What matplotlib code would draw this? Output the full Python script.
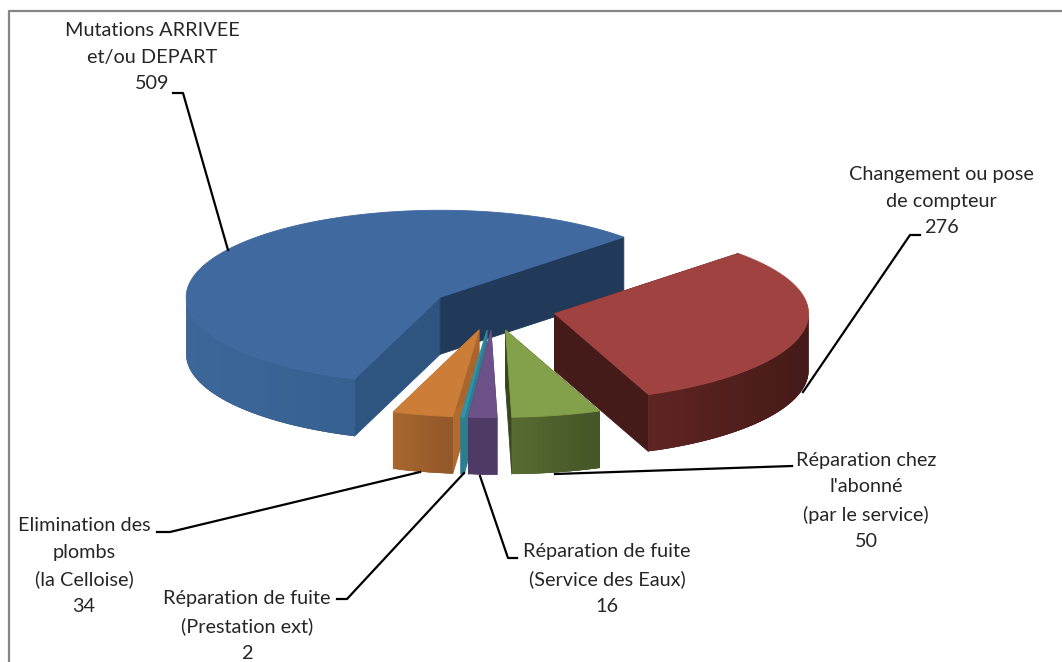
import numpy as np
import matplotlib
matplotlib.use("Agg")
import matplotlib.pyplot as plt
from matplotlib.colors import to_rgb
from matplotlib.patches import Polygon

# ---- data (order: clockwise from the red slice) ----
categories = ["Changement ou pose\nde compteur",
              "Réparation chez\nl'abonné\n(par le service)",
              "Réparation de fuite\n(Service des Eaux)",
              "Réparation de fuite\n(Prestation ext)",
              "Elimination des\nplombs\n(la Celloise)",
              "Mutations ARRIVEE\net/ou DEPART"]
values = [276, 50, 16, 2, 34, 509]

top_colors = ["#a04340", "#83a04a", "#6d5189", "#2f93a9", "#cc7e38", "#4069a0"]
wall_left = ["#5f2422", "#586c31", "#4f3a66", "#2c7d90", "#a8662d", "#3d6799"]
wall_right = ["#451a18", "#445527", "#4f3a66", "#2c7d90", "#91582a", "#36608f"]
face_cw_side = ["#451b19", "#445527", "#4f3a66", "#2c7d90", "#b06c30", "#2e5480"]
face_ccw_side = ["#451b19", "#38461e", "#4f3a66", "#2c7d90", "#a8662d", "#213a5a"]

# ---- layout ----
START = 43.7
CX, CY, RX, RY, DEPTH, EXPLODE = 493.0, 309.0, 254.0, 87.0, 57.0, 0.248
label_xy = [(941, 201), (866, 501), (607, 579), (247, 626), (84, 566), (152, 57)]
leaders = [[(920, 235), (910, 235), (803, 392)],
           [(792, 466), (555, 474)],
           [(517, 558), (508, 558), (480, 476)],
           [(337, 599), (347, 599), (464, 473)],
           [(157, 532), (170, 532), (420, 472)],
           [(173, 93), (183, 93), (228, 250)]]
draw_order = [5, 0, 4, 3, 2, 1]

plt.rcParams['font.family'] = ['Lato', 'DejaVu Sans']
fig = plt.figure(figsize=(10.62, 6.62), dpi=100)
ax = fig.add_axes([0, 0, 1, 1])
ax.set_xlim(0, 1062)
ax.set_ylim(662, 0)
ax.axis('off')


def pt(a_deg, r, ox, oy, dz=0.0):
    a = np.radians(a_deg)
    return ox + RX * r * np.cos(a), oy - RY * r * np.sin(a) + dz


def poly(points, color, z):
    ax.add_patch(Polygon(points, closed=True, facecolor=color, edgecolor=color,
                         linewidth=0.6, zorder=z, joinstyle='round'))


# frame open on the right and bottom, as cropped in the reference
ax.plot([9, 9, 1062], [662, 11, 11], color="#868686", lw=1.6, zorder=1)

total = sum(values)
spans = np.array(values) / total * 360.0
ends = START - np.cumsum(spans)
starts = ends + spans

z = 2
for i in draw_order:
    a2, a1 = starts[i], ends[i]          # a1 < a2 (counter-clockwise)
    mid = np.radians((a1 + a2) / 2)
    ox = CX + EXPLODE * RX * np.cos(mid)
    oy = CY - EXPLODE * RY * np.sin(mid)
    apex = (ox, oy)
    apex_d = (ox, oy + DEPTH)
    # cut faces
    for ang, col in ((a2, face_cw_side[i]), (a1, face_ccw_side[i])):
        poly([apex, pt(ang, 1, ox, oy), pt(ang, 1, ox, oy, DEPTH), apex_d], col, z)
        z += 1
    # outer wall, only the part facing the viewer, as overlapping shaded strips
    aa = np.arange(a1, a2, 1.0)
    aa = np.unique(np.concatenate([aa, [a2], [b for b in (-180.0, 0.0) if a1 < b < a2]]))
    vis = aa[np.sin(np.radians(aa)) <= 1e-9]
    cl, cr = np.array(to_rgb(wall_left[i])), np.array(to_rgb(wall_right[i]))
    if len(vis) >= 2:
        xs = np.cos(np.radians(vis))
        t = (xs - xs.min()) / max(xs.max() - xs.min(), 1e-6)
        order = np.argsort(xs)
        vs, ts = vis[order], t[order]
        for k in range(len(vs) - 1):
            c = cl + (cr - cl) * (ts[k] + ts[k + 1]) / 2
            stop = min(k + 3, len(vs) - 1)
            seg = vs[k:stop + 1]
            upper = [pt(v, 1, ox, oy) for v in seg]
            lower = [pt(v, 1, ox, oy, DEPTH) for v in seg[::-1]]
            ax.add_patch(Polygon(upper + lower, closed=True, facecolor=tuple(c),
                                 edgecolor='none', zorder=z))
            z += 0.001
        z = int(z) + 1
    # top
    arc = np.linspace(a1, a2, 200)
    poly([apex] + [pt(x, 1, ox, oy) for x in arc], top_colors[i], z)
    z += 1

for i, cat in enumerate(categories):
    x, y = label_xy[i]
    ax.text(x, y, f"{cat}\n{values[i]}", ha='center', va='center', fontsize=14.3,
            color="#262626", linespacing=1.67, zorder=200)
    ax.plot(*zip(*leaders[i]), color="black", lw=1.6, zorder=150,
            solid_joinstyle='round')

fig.savefig("out.png", dpi=100, facecolor="white")
